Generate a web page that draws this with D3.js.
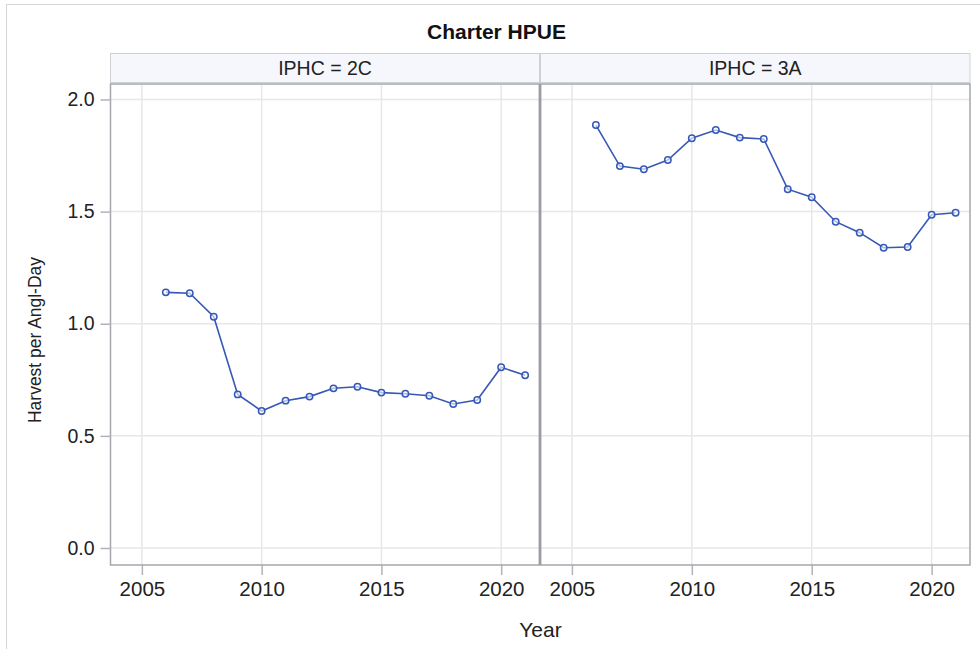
<!DOCTYPE html>
<html><head><meta charset="utf-8">
<script src="https://cdn.jsdelivr.net/npm/d3@7"></script>
<style>body{margin:0;background:#fff;} text{font-family:"Liberation Sans",Arial,sans-serif;}</style>
</head><body>
<svg id="c" width="980" height="649"></svg>
<script>
const years = [2006,2007,2008,2009,2010,2011,2012,2013,2014,2015,2016,2017,2018,2019,2020,2021];
const panels = ["2C","3A"];
const hpue2C = [1.140,1.136,1.031,0.685,0.611,0.657,0.675,0.712,0.719,0.693,0.688,0.679,0.642,0.660,0.806,0.770];
const hpue3A = [1.886,1.703,1.689,1.730,1.827,1.864,1.830,1.824,1.600,1.564,1.455,1.406,1.339,1.342,1.486,1.495];
const xTicks = [2005,2010,2015,2020];
const yTicks = [0.0,0.5,1.0,1.5,2.0];
const series = {"2C":hpue2C,"3A":hpue3A};

const svg = d3.select("#c");
const lineColor = "#3658b6";
const FONT = "Liberation Sans, Arial, sans-serif";
svg.append("rect").attr("x",6.5).attr("y",4.5).attr("width",980).attr("height",660)
  .attr("fill","#fff").attr("stroke","#d6d6d6");

svg.append("text").attr("x",496.5).attr("y",39).attr("text-anchor","middle")
  .attr("font-size",21).attr("font-weight","bold").attr("fill","#111").text("Charter HPUE");

const plotTop = 84, plotBottom = 565;
const y = d3.scaleLinear().domain([-0.0758, 2.069]).range([plotBottom, plotTop]);
const panelX = [[110.5,539.5],[540.5,970]];

panels.forEach((p,i)=>{
  const [x0,x1] = panelX[i];
  const x = d3.scaleLinear().domain([2003.69, 2021.6]).range([x0,x1]);
  const g = svg.append("g");
  g.append("rect").attr("x",x0).attr("y",53.5).attr("width",x1-x0).attr("height",29)
    .attr("fill","#f5f7fd").attr("stroke","#cdd0d4");
  g.append("text").attr("x",(x0+x1)/2).attr("y",75).attr("text-anchor","middle")
    .attr("font-size",19.5).attr("fill","#222").text("IPHC = " + p);
  g.selectAll(".gy").data(yTicks).join("line").attr("x1",x0).attr("x2",x1)
    .attr("y1",d=>y(d)).attr("y2",d=>y(d)).attr("stroke","#e7e7e7").attr("stroke-width",1.5);
  g.selectAll(".gx").data(xTicks).join("line").attr("x1",d=>x(d)).attr("x2",d=>x(d))
    .attr("y1",plotTop).attr("y2",plotBottom).attr("stroke","#e7e7e7").attr("stroke-width",1.5);
  const xa = g.append("g").attr("transform",`translate(0,${plotBottom})`)
    .call(d3.axisBottom(x).tickValues(xTicks).tickFormat(d3.format("d")).tickSize(10).tickPadding(6));
  xa.select(".domain").remove();
  xa.selectAll("line").attr("stroke","#b0b3b7").attr("stroke-width",1.5);
  xa.selectAll("text").attr("font-size",20.5).attr("fill","#222").attr("font-family",FONT);
  const data = years.map((yr,k)=>({yr, v: series[p][k]}));
  g.append("path").datum(data).attr("fill","none").attr("stroke",lineColor).attr("stroke-width",1.6)
    .attr("d", d3.line().x(d=>x(d.yr)).y(d=>y(d.v)));
  g.selectAll(".m").data(data).join("circle").attr("cx",d=>x(d.yr)).attr("cy",d=>y(d.v))
    .attr("r",3.2).attr("fill","#fff").attr("fill-opacity",0.6).attr("stroke",lineColor).attr("stroke-width",1.5);
  g.append("rect").attr("x",x0).attr("y",plotTop).attr("width",x1-x0).attr("height",plotBottom-plotTop)
    .attr("fill","none").attr("stroke","#a4a8ac").attr("stroke-width",1.5);
});
svg.append("line").attr("x1",540).attr("x2",540).attr("y1",84).attr("y2",565)
  .attr("stroke","#9a9ea3").attr("stroke-width",2.5);

const ya = svg.append("g").attr("transform","translate(110.5,0)")
  .call(d3.axisLeft(y).tickValues(yTicks).tickFormat(d3.format(".1f")).tickSize(10).tickPadding(6));
ya.select(".domain").remove();
ya.selectAll("line").attr("stroke","#b0b3b7").attr("stroke-width",1.5);
ya.selectAll("text").attr("font-size",19.5).attr("fill","#222").attr("font-family",FONT);

svg.append("text").attr("transform","translate(41,340) rotate(-90)").attr("text-anchor","middle")
  .attr("font-size",19).attr("fill","#222").attr("textLength",166).attr("lengthAdjust","spacingAndGlyphs")
  .text("Harvest per Angl-Day");
svg.append("text").attr("x",540.5).attr("y",637).attr("text-anchor","middle")
  .attr("font-size",21).attr("fill","#222").text("Year");
</script>
</body></html>
